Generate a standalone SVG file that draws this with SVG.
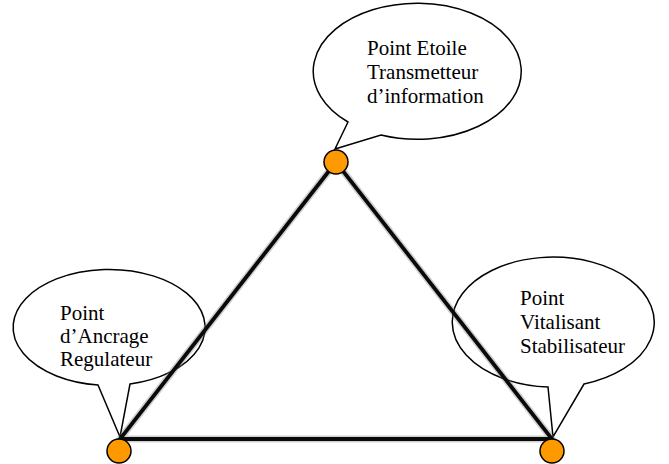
<svg xmlns="http://www.w3.org/2000/svg" width="669" height="464" viewBox="0 0 669 464">
<style>
.bubble{fill:#fff;stroke:#000;stroke-width:1.5;stroke-linejoin:miter}
.lbl{font-family:"Liberation Serif","Times New Roman",serif;font-size:21px;fill:#000}
.halo{fill:none;stroke:#777;stroke-width:7;stroke-opacity:0.35;stroke-linecap:round}
.edge{fill:none;stroke:#0a0a0a;stroke-width:3.8;stroke-linecap:round}
.dot{fill:#FF9900;stroke:#000;stroke-width:1.5}
</style>
<rect width="669" height="464" fill="#fff"/>
<g id="bubble-top">
<path class="bubble" d="M348,122 L335,149 L381,135 A104 68 0 1 0 348,122 Z"/>
<text class="lbl" x="367" y="55">Point Etoile</text>
<text class="lbl" x="367" y="79">Transmetteur</text>
<text class="lbl" x="367" y="103">d’information</text>
</g>
<g id="bubble-left">
<path class="bubble" d="M98,385 L120,437 L130,384 A96 58 0 1 0 98,385 Z"/>
<text class="lbl" x="60" y="320">Point</text>
<text class="lbl" x="60" y="343">d’Ancrage</text>
<text class="lbl" x="60" y="366">Regulateur</text>
</g>
<g id="bubble-right">
<path class="bubble" d="M548,387 L553,437 L584,384 A101 65 0 1 0 548,387 Z"/>
<text class="lbl" x="520" y="305">Point</text>
<text class="lbl" x="520" y="329">Vitalisant</text>
<text class="lbl" x="520" y="353">Stabilisateur</text>
</g>
<g id="connectors">
<path class="halo" d="M336,162 L120,439 L552,439 Z"/>
<path class="edge" d="M336,162 L120,439 L552,439 Z"/>
</g>
<g id="point-top"><circle class="dot" cx="336" cy="162" r="12"/></g>
<g id="point-left"><circle class="dot" cx="119" cy="451" r="12"/></g>
<g id="point-right"><circle class="dot" cx="552" cy="451" r="12"/></g>
</svg>
